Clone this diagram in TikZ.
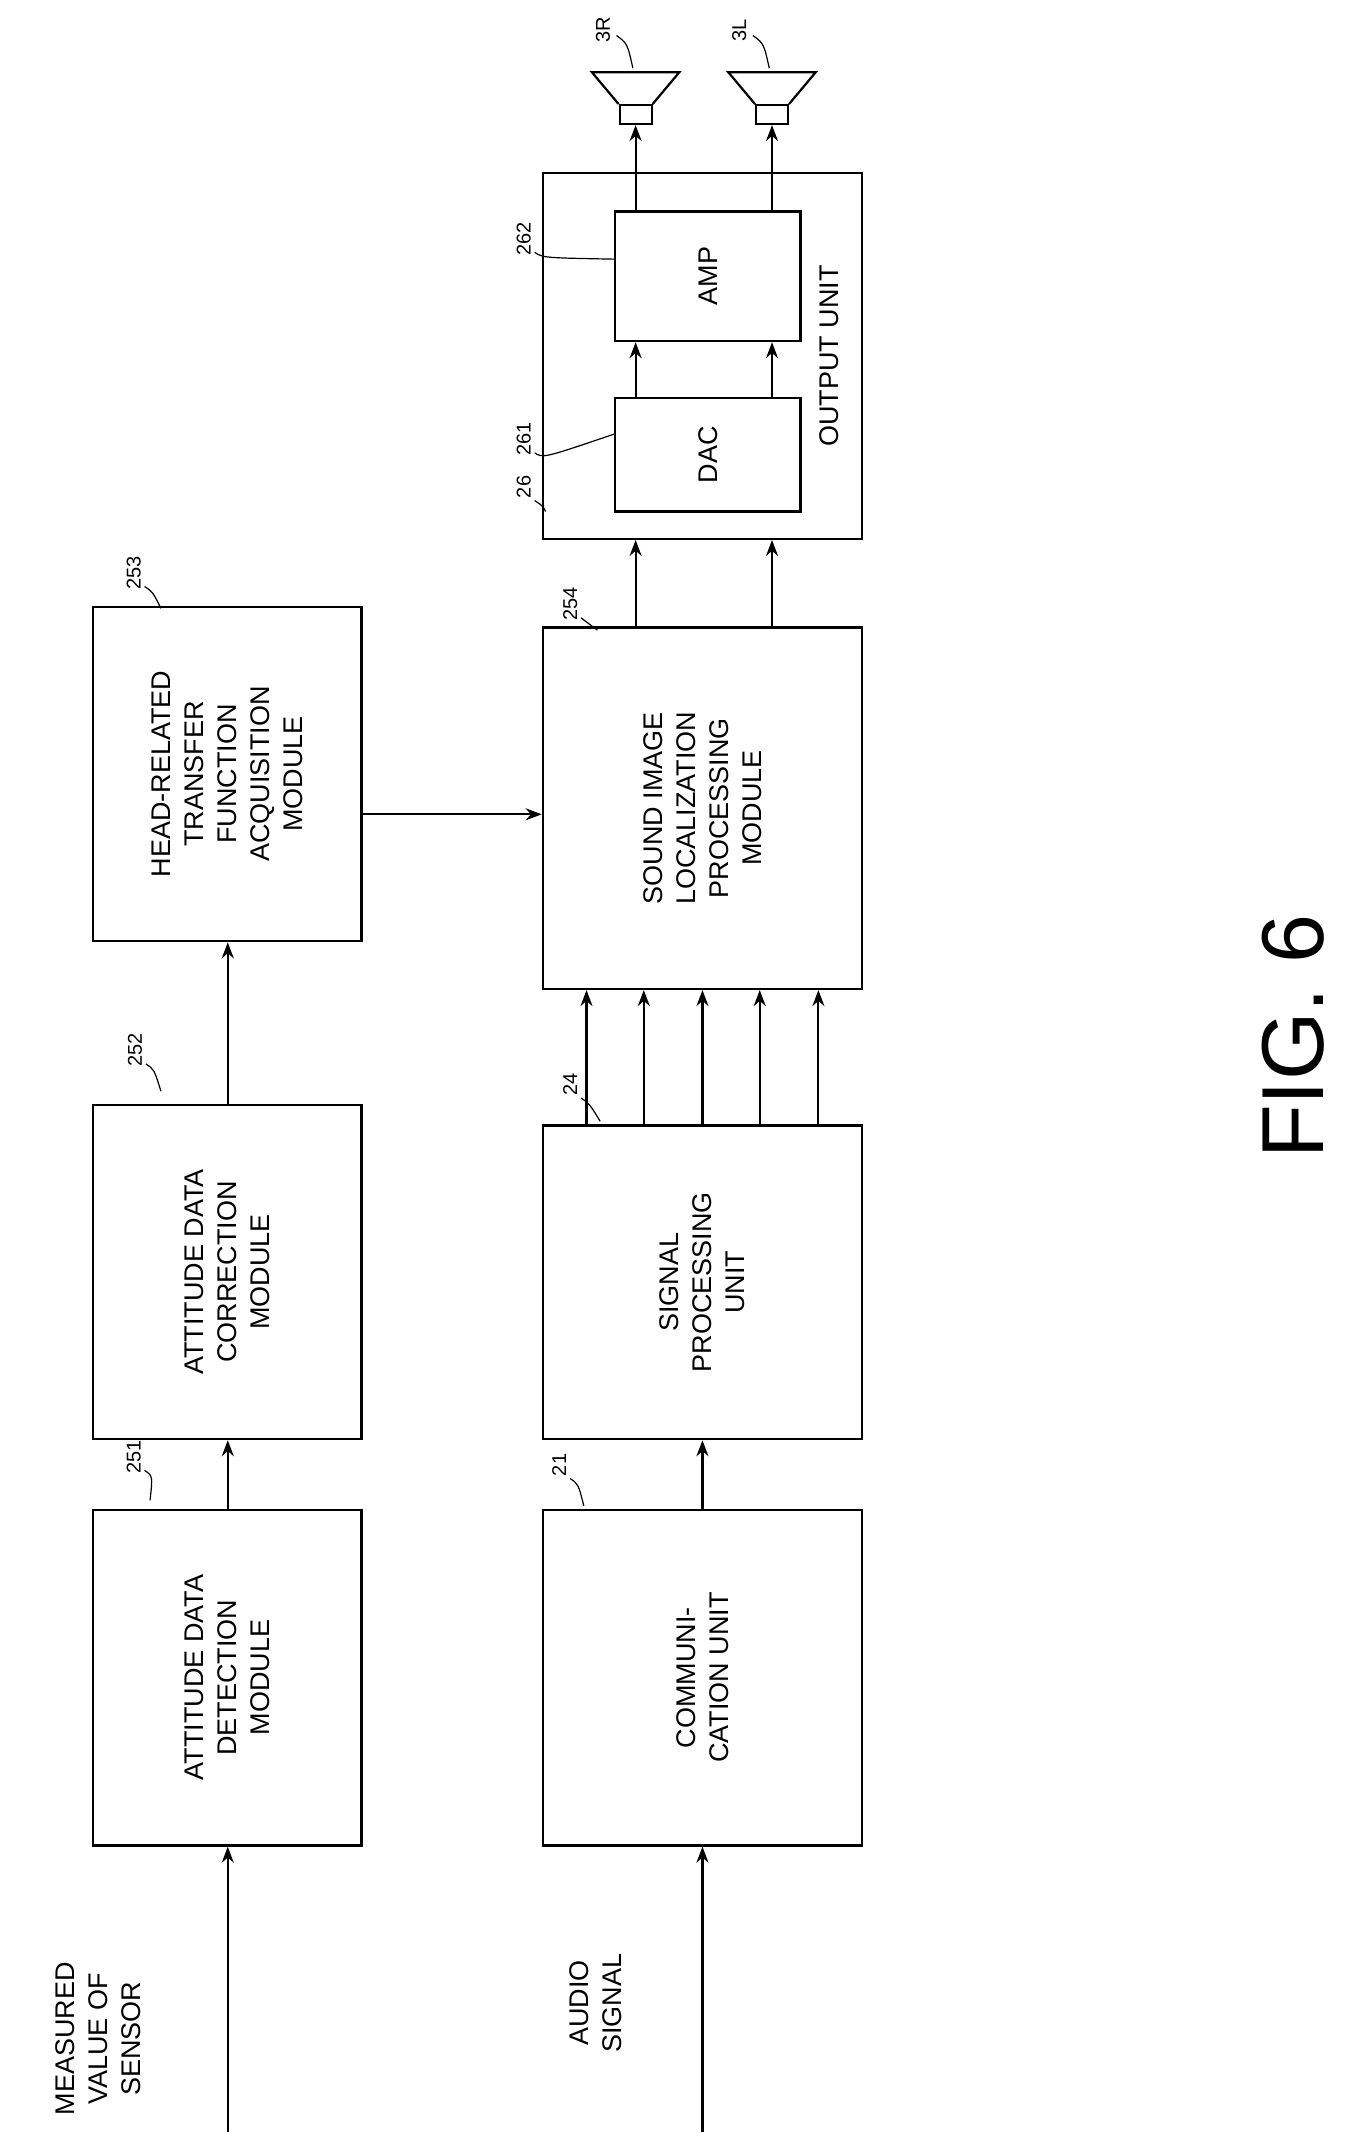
\documentclass[tikz,border=0pt]{standalone}
\usepackage{fontspec}
\setmainfont{Liberation Sans}
\usetikzlibrary{fit,arrows.meta}
\tikzset{
  box/.style={draw,line width=1.2pt,inner sep=0pt},
  txt/.style={rotate=90,align=center,font=\fontsize{13.5}{16.5}\selectfont},
  num/.style={rotate=90,font=\fontsize{10}{12}\selectfont},
  arr/.style={line width=1.1pt,-{Stealth[length=8pt,width=6pt]}},
}
\begin{document}
\begin{tikzpicture}[x=0.682pt,y=0.682pt,yscale=-1]
\useasboundingbox (0,0) rectangle (1000,1563.8);

%Boxes
\node[box,fit={(68,1107) (265,1353)}] (b251) {};
\node[box,fit={(68,810) (265,1055)}] (b252) {};
\node[box,fit={(68,445) (265,690)}] (b253) {};
\node[box,fit={(398,1107) (632,1353)}] (b21) {};
\node[box,fit={(398,825) (632,1055)}] (b24) {};
\node[box,fit={(398,460) (632,725)}] (b254) {};
\node[box,fit={(398,127) (632,395)}] (b26) {};
\node[box,fit={(451,292) (587,375)}] (dac) {};
\node[box,fit={(451,155) (587,250)}] (amp) {};

%Texts
\node[txt] at (b251) {ATTITUDE DATA\\DETECTION\\MODULE};
\node[txt] at (b252) {ATTITUDE DATA\\CORRECTION\\MODULE};
\node[txt] at (b253) {HEAD-RELATED\\TRANSFER\\FUNCTION\\ACQUISITION\\MODULE};
\node[txt] at (b21) {COMMUNI-\\CATION UNIT};
\node[txt] at (b24) {SIGNAL\\PROCESSING\\UNIT};
\node[txt] at (b254) {SOUND IMAGE\\LOCALIZATION\\PROCESSING\\MODULE};
\node[txt] at (dac) {DAC};
\node[txt] at (amp) {AMP};
\node[txt] (outlbl) at (608,261) {OUTPUT UNIT};
\node[txt,anchor=west] (insens) at (72,1556) {MEASURED\\VALUE OF\\SENSOR};
\node[txt,anchor=west] (inaud) at (437,1510) {AUDIO\\SIGNAL};
\node[rotate=90,font=\fontsize{44}{50}\selectfont] (fig) at (948,760) {FIG. 6};

%Reference numerals
\foreach \n/\x/\y/\tx/\ty in {251/98/1068/110/1100, 252/99/770/118/800, 253/98/420/118/446,
  21/410/1074/428/1104, 24/418/795/440/822, 254/418/443/438/462,
  26/384/357/400/375, 261/384/322/451/318, 262/384/175/451/190}
  {\node[num] (n\n) at (\x,\y) {\n};
   \draw[line width=0.6pt] (\x+8,\y+10) .. controls (\x+14,\y+14) .. (\tx,\ty);}

%Speakers
\foreach \sp/\x in {3R/466,3L/566}{
  \node[inner sep=0pt,minimum width=16pt,minimum height=9.5pt,draw,line width=1pt] (s\sp) at (\x,84) {};
  \draw[line width=1.1pt] (s\sp.north west) -- (\x-32,53) -- (\x+32,53) -- (s\sp.north east);
  \node[num] (l\sp) at (\x-24,22) {\sp};
  \draw[line width=0.6pt] (\x-14,26) .. controls (\x-6,32) .. (\x-2,50);
}

%Connectors
\coordinate (src1) at (167,1563);
\coordinate (src2) at (515,1563);
\draw[arr] (src1) -- (b251.south -| src1);
\draw[arr] (src2) -- (b21.south -| src2);
\draw[arr] (b251.north -| src1) -- (b252.south -| src1);
\draw[arr] (b252.north -| src1) -- (b253.south -| src1);
\draw[arr] (b21.north -| src2) -- (b24.south -| src2);
\draw[arr] (b253.east |- 0,597) -- (b254.west |- 0,597);
\foreach \x in {430,472,515,557,600}
  \draw[arr] (b24.north -| \x,0) -- (b254.south -| \x,0);
\foreach \x/\sp in {466/3R,566/3L}{
  \draw[arr] (b254.north -| \x,0) -- (b26.south -| \x,0);
  \draw[arr] (dac.north -| \x,0) -- (amp.south -| \x,0);
  \draw[arr] (amp.north -| \x,0) -- (s\sp.south -| \x,0);
}
\end{tikzpicture}
\end{document}
